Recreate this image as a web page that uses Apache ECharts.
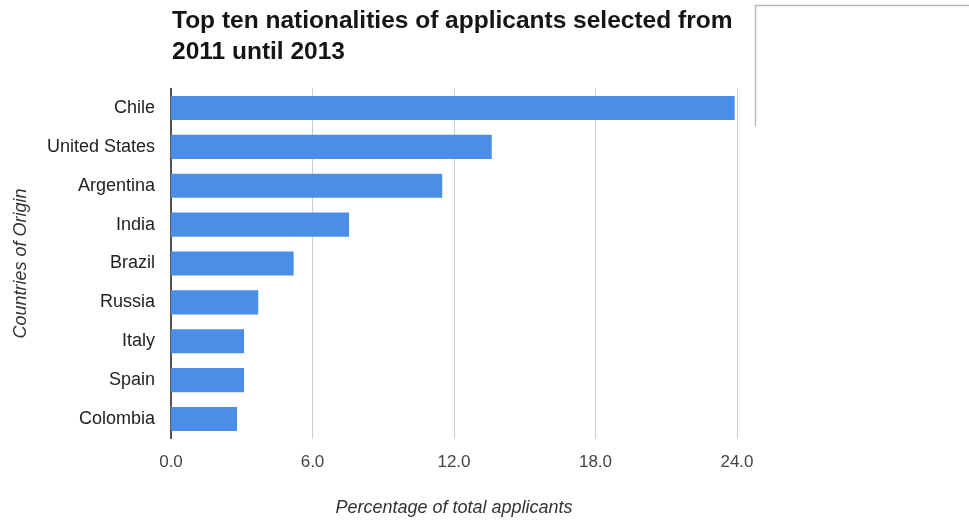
<!DOCTYPE html>
<html>
<head>
<meta charset="utf-8">
<script src="https://cdn.jsdelivr.net/npm/echarts@6/dist/echarts.min.js"></script>
<style>
  html, body { margin: 0; padding: 0; background: #fff; }
  #chart { width: 969px; height: 520px; }
</style>
</head>
<body>
<div id="chart"></div>
<script>
// data
var countries = ['Chile', 'United States', 'Argentina', 'India', 'Brazil', 'Russia', 'Italy', 'Spain', 'Colombia'];
var shares = [23.9, 13.6, 11.5, 7.55, 5.2, 3.7, 3.1, 3.1, 2.8];
var xTicks = [0, 6, 12, 18, 24];

var chart = echarts.init(document.getElementById('chart'));

var option = {
	backgroundColor: '#fff',
	animation: false,
	textStyle: {
		fontFamily: 'Liberation Sans, Arial, sans-serif'
	},
	title: {
		text: 'Top ten nationalities of applicants selected from\n2011 until 2013',
		left: 172,
		top: 6,
		padding: 0,
		textStyle: {
			fontSize: 24.5,
			fontWeight: 'bold',
			color: '#151515',
			lineHeight: 31
		}
	},
	grid: {
		left: 171,
		right: 232,
		top: 88.5,
		bottom: 81.5,
		containLabel: false,
		outerBoundsMode: 'none'
	},
	xAxis: {
		type: 'value',
		min: xTicks[0],
		max: xTicks[xTicks.length - 1],
		interval: 6,
		name: 'Percentage of total applicants',
		nameLocation: 'middle',
		nameGap: 60,
		nameTextStyle: {
			fontStyle: 'italic',
			fontSize: 18,
			color: '#333'
		},
		axisLine: { show: false },
		axisTick: { show: false },
		axisLabel: {
			fontSize: 17,
			color: '#444',
			margin: 15,
			formatter: function (v) {
				return v.toFixed(1);
			}
		},
		splitLine: {
			lineStyle: { color: '#ccc', width: 1 }
		}
	},
	yAxis: {
		type: 'category',
		data: countries,
		inverse: true,
		name: 'Countries of Origin',
		nameLocation: 'middle',
		nameGap: 141,
		nameRotate: 90,
		nameTextStyle: {
			fontStyle: 'italic',
			fontSize: 18,
			color: '#333'
		},
		axisLine: {
			show: true,
			lineStyle: { color: '#222', width: 1.5 }
		},
		axisTick: { show: false },
		axisLabel: {
			fontSize: 18,
			color: '#222',
			margin: 16
		}
	},
	series: [
		{
			type: 'bar',
			data: shares,
			barCategoryGap: '38%',
			itemStyle: {
				color: '#4a8ee8'
			}
		}
	],
	graphic: [
		{
			type: 'line',
			shape: { x1: 755.5, y1: 5, x2: 755.5, y2: 126 },
			style: { stroke: '#bbb', lineWidth: 1.5 }
		},
		{
			type: 'line',
			shape: { x1: 755, y1: 5.5, x2: 969, y2: 5.5 },
			style: { stroke: '#bbb', lineWidth: 1.5 }
		}
	]
};

chart.setOption(option);
</script>
</body>
</html>
